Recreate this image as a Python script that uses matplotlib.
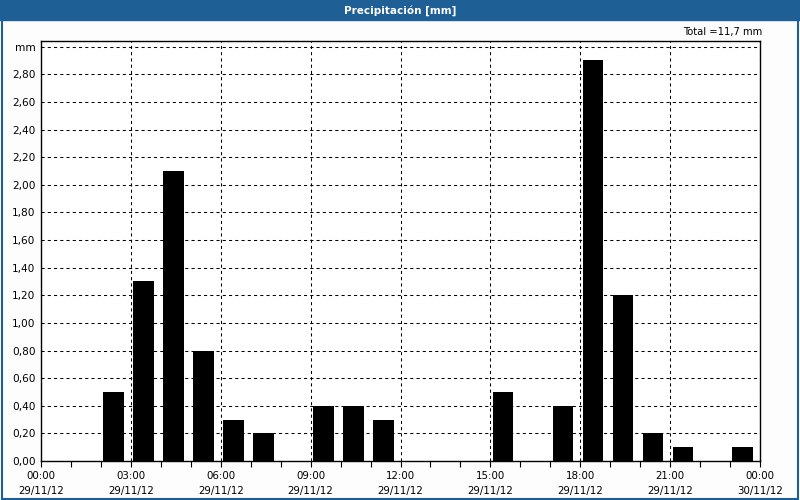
import matplotlib.pyplot as plt
from matplotlib.patches import Rectangle
from matplotlib.ticker import MultipleLocator, FixedLocator

hours = [2, 3, 4, 5, 6, 7, 9, 10, 11, 15, 17, 18, 19, 20, 21, 23]
precip = [0.5, 1.3, 2.1, 0.8, 0.3, 0.2, 0.4, 0.4, 0.3, 0.5, 0.4, 2.9, 1.2, 0.2, 0.1, 0.1]
tick_hours = [0, 3, 6, 9, 12, 15, 18, 21, 24]
tick_labels = ['00:00\n29/11/12', '03:00\n29/11/12', '06:00\n29/11/12', '09:00\n29/11/12',
               '12:00\n29/11/12', '15:00\n29/11/12', '18:00\n29/11/12', '21:00\n29/11/12',
               '00:00\n30/11/12']
ytick_vals = [0.0, 0.2, 0.4, 0.6, 0.8, 1.0, 1.2, 1.4, 1.6, 1.8, 2.0, 2.2, 2.4, 2.6, 2.8, 3.0]
total = 11.7

blue = '#1e5f96'
fig = plt.figure(figsize=(8, 5), dpi=100, facecolor='#fdfdfd')

# title bar and frame
fig.patches.append(Rectangle((0, 1 - 20 / 500), 1, 20 / 500, transform=fig.transFigure,
                             color=blue, zorder=0))
fig.patches.append(Rectangle((1.5 / 800, 1.5 / 500), 796 / 800, 480 / 500, transform=fig.transFigure,
                             fill=False, edgecolor=blue, lw=1.5, zorder=0))
fig.text(0.5, 1 - 10.5 / 500, 'Precipitación [mm]', color='white', fontsize=7.5,
         fontweight='bold', ha='center', va='center')

ax = fig.add_axes([41 / 800, 1 - 461 / 500, 719 / 800, 420.3 / 500])
ax.set_facecolor('white')
ax.bar([h + 0.08 for h in hours], precip, width=0.69, align='edge', color='black',
       linewidth=0, zorder=3)

ax.set_xlim(0, 24)
ax.set_ylim(0, 3.043)

ax.xaxis.set_major_locator(FixedLocator(tick_hours))
ax.set_xticklabels(tick_labels, fontsize=7.4, linespacing=1.65)
ax.xaxis.set_minor_locator(MultipleLocator(1))
ax.tick_params(axis='x', which='both', length=4, width=0.8, pad=3)

ax.yaxis.set_major_locator(FixedLocator(ytick_vals))
ylabels = [f'{v:.2f}'.replace('.', ',') for v in ytick_vals]
ylabels[-1] = 'mm'
ax.set_yticklabels(ylabels, fontsize=7.6)
ax.tick_params(axis='y', length=0, pad=4)

ax.grid(True, which='major', color='black', linestyle=(0, (3, 3)), linewidth=0.75, zorder=1)
for s in ax.spines.values():
    s.set_linewidth(1.0)

fig.text(762 / 800, 1 - 32 / 500, f'Total ={total:.1f}'.replace('.', ',') + ' mm',
         fontsize=7.2, ha='right', va='center')

fig.savefig('out.png', dpi=100, facecolor=fig.get_facecolor())
